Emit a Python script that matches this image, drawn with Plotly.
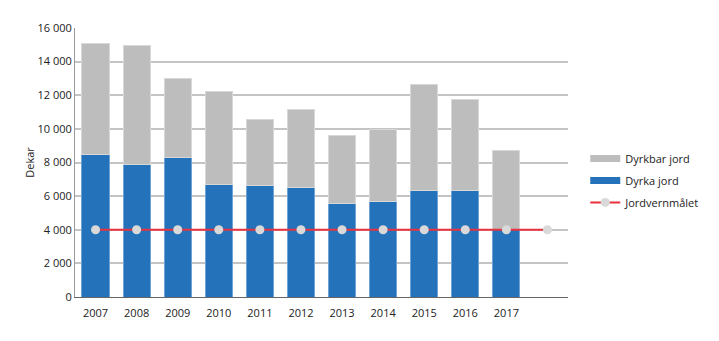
import plotly.graph_objects as go

years = [2007, 2008, 2009, 2010, 2011, 2012, 2013, 2014, 2015, 2016, 2017]
dyrka_jord = [8500, 7870, 8280, 6670, 6610, 6510, 5580, 5680, 6310, 6310, 4000]
dyrkbar_jord = [6590, 7060, 4690, 5580, 3920, 4670, 4040, 4290, 6300, 5410, 4740]
target_years = [2007, 2008, 2009, 2010, 2011, 2012, 2013, 2014, 2015, 2016, 2017, 2018]
jordvernmaalet = [4000] * 12
y_ticks = [0, 2000, 4000, 6000, 8000, 10000, 12000, 14000, 16000]

font = "Open Sans, Noto Sans, sans-serif"
blue = "#2372ba"
grey = "#bdbdbd"

fig = go.Figure()
fig.add_trace(go.Bar(
    x=years, y=dyrka_jord, name="Dyrka jord", width=0.66,
    marker=dict(color=blue, line=dict(color="#6fa3d6", width=1)),
    showlegend=False,
))
fig.add_trace(go.Bar(
    x=years, y=dyrkbar_jord, name="Dyrkbar jord", width=0.66,
    marker=dict(color=grey, line=dict(color="#d8d8d8", width=1)),
    showlegend=False,
))
fig.add_trace(go.Scatter(
    x=target_years, y=jordvernmaalet, name="Jordvernmålet", mode="lines+markers",
    line=dict(color="#e8333f", width=2),
    marker=dict(color="#d9d9d9", size=9),
    legendrank=3, legendgroup="c",
))
# legend swatches for the bar series
fig.add_trace(go.Scatter(x=[None], y=[None], mode="lines", name="Dyrkbar jord",
                         line=dict(color=grey, width=7), legendrank=1, legendgroup="a"))
fig.add_trace(go.Scatter(x=[None], y=[None], mode="lines", name="Dyrka jord",
                         line=dict(color=blue, width=7), legendrank=2, legendgroup="b"))

fig.update_layout(
    width=719, height=341,
    barmode="stack",
    separators=", ",
    paper_bgcolor="white", plot_bgcolor="white",
    margin=dict(l=75, r=151, t=28, b=44),
    font=dict(family=font, size=11, color="#222"),
    showlegend=True,
    legend=dict(x=1.035, y=0.569, xanchor="left", yanchor="top",
                traceorder="grouped",
                font=dict(size=11, family=font), tracegroupgap=3,
                itemwidth=30),
    xaxis=dict(range=[2006.5, 2018.5], tickvals=years, ticktext=[str(y) for y in years],
               showgrid=False, showline=True, linecolor="#666", linewidth=1,
               ticks="", zeroline=False, tickfont=dict(size=11),
               ticklabelstandoff=6),
    yaxis=dict(range=[0, 16000], tickvals=y_ticks, tickformat=",d",
               showgrid=True, gridcolor="#c4c4c4", gridwidth=1.5,
               showline=True, linecolor="#999", linewidth=1,
               zeroline=False, ticks="", tickfont=dict(size=11),
               title=dict(text="Dekar", font=dict(size=11), standoff=0)),
)

fig.write_html("out.html")
